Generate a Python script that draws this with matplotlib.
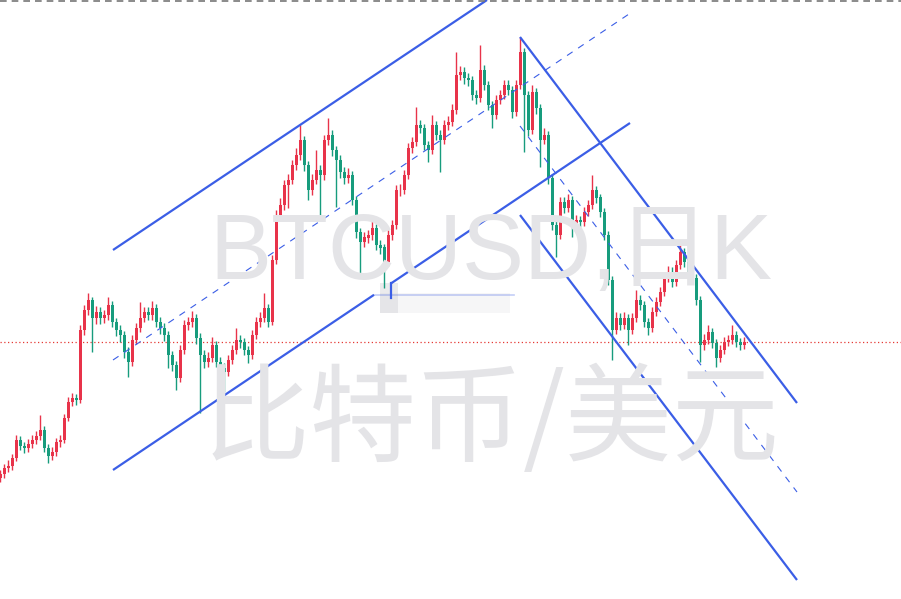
import numpy as np
import matplotlib
matplotlib.use('Agg')
import matplotlib.pyplot as plt
from matplotlib.lines import Line2D

plt.rcParams['font.family'] = ['Liberation Sans', 'Noto Sans CJK SC', 'DejaVu Sans']

# BTCUSD daily, price in thousands of USD
first_open = 12.2
closes = [
    12.6, 13.2, 13.4, 14.2, 16.0, 15.4, 15.2, 15.6, 16.0, 16.4,
    17.0, 15.2, 14.4, 14.8, 15.8, 16.0, 18.2, 19.8, 20.2, 20.0,
    27.0, 29.0, 30.0, 28.2, 28.8, 28.2, 28.5, 29.5, 27.8, 27.0,
    26.5, 24.8, 23.8, 26.0, 27.2, 28.2, 28.8, 28.5, 29.2, 27.8,
    27.2, 26.5, 24.5, 23.5, 22.2, 25.0, 27.5, 27.8, 28.2, 26.2,
    24.5, 23.8, 24.2, 25.5, 23.8, 23.2, 22.8, 24.0, 25.0, 26.0,
    25.8, 25.0, 24.5, 26.5, 27.8, 28.2, 29.2, 27.8, 34.0, 38.5,
    39.5, 41.5, 42.0, 43.5, 44.5, 46.0, 43.5, 41.0, 42.0, 43.0,
    42.5, 46.0, 46.5, 45.0, 44.0, 42.8, 42.2, 42.5, 40.0, 36.8,
    35.8, 36.2, 36.5, 37.2, 35.5, 35.2, 33.8, 36.5, 37.5, 41.0,
    41.0, 42.5, 45.2, 45.8, 47.5, 47.2, 45.5, 45.0, 47.5, 46.5,
    46.0, 47.5, 47.8, 49.0, 52.5, 52.8, 52.2, 52.0, 50.5, 50.2,
    53.0, 51.5, 49.5, 48.5, 50.0, 50.5, 51.5, 51.0, 48.8, 51.5,
    54.8, 50.5, 47.0, 50.8, 49.2, 46.0, 46.5, 42.2, 37.5, 36.5,
    39.8, 39.2, 40.0, 37.5, 38.0, 37.8, 38.8, 39.5, 41.0, 40.2,
    38.8, 36.5, 32.0, 27.0, 28.2, 27.5, 28.2, 27.0, 28.2, 30.0,
    29.5, 27.8, 27.2, 28.8, 29.8, 30.8, 32.2, 32.8, 31.8, 33.5,
    34.8, 33.8, 32.8, 32.2, 30.0, 25.5, 26.0, 26.8, 25.7, 24.2,
    25.0, 25.8, 26.0, 26.5, 25.8, 25.5, 25.8,
]
highs = [
    13.0, 13.6, 14.0, 14.6, 16.5, 16.4, 15.8, 16.1, 16.5, 16.9,
    18.5, 17.4, 15.6, 15.3, 16.2, 16.5, 18.6, 20.3, 20.7, 20.6,
    27.5, 29.5, 30.7, 30.3, 29.4, 29.3, 29.0, 30.3, 29.9, 28.2,
    27.5, 26.9, 25.3, 26.5, 27.7, 29.8, 29.3, 29.3, 29.9, 29.6,
    28.3, 27.7, 26.9, 24.9, 23.9, 25.5, 28.0, 28.3, 28.9, 28.6,
    26.7, 25.0, 24.8, 26.3, 25.9, 24.3, 23.7, 24.5, 25.5, 27.2,
    26.5, 26.2, 25.4, 27.0, 28.3, 28.8, 30.7, 29.6, 34.5, 39.0,
    40.2, 42.0, 42.6, 44.0, 45.2, 47.5, 46.4, 43.9, 42.6, 45.0,
    43.5, 46.5, 48.2, 47.0, 45.4, 44.5, 43.3, 43.2, 42.9, 40.4,
    37.2, 36.8, 37.0, 38.0, 37.6, 36.0, 35.6, 37.0, 38.0, 41.5,
    41.6, 43.0, 45.7, 46.3, 49.3, 48.0, 47.6, 45.9, 48.5, 47.9,
    47.0, 48.0, 48.4, 49.6, 54.8, 53.4, 53.3, 52.7, 52.4, 51.0,
    55.5, 53.5, 51.9, 49.9, 50.5, 51.0, 52.0, 52.0, 51.4, 52.0,
    56.3, 55.2, 50.9, 51.5, 51.2, 49.6, 47.2, 46.9, 42.6, 38.0,
    40.3, 40.3, 40.6, 40.4, 38.5, 38.4, 39.3, 40.0, 42.5, 41.4,
    40.6, 39.2, 36.9, 32.4, 28.8, 28.7, 28.8, 28.6, 28.7, 31.0,
    30.5, 29.9, 28.2, 29.3, 30.3, 31.3, 32.7, 33.4, 33.3, 34.0,
    35.5, 35.2, 34.2, 33.3, 32.6, 30.4, 26.6, 27.5, 27.2, 26.1,
    25.5, 26.3, 26.5, 27.5, 26.9, 26.2, 26.3,
]
lows = [
    11.8, 12.2, 12.8, 13.0, 13.9, 15.0, 14.7, 14.8, 15.2, 15.6,
    16.0, 14.8, 13.7, 14.0, 14.4, 15.3, 15.7, 17.9, 19.4, 19.5,
    19.7, 26.5, 28.5, 24.8, 27.6, 27.6, 27.7, 28.0, 27.3, 26.4,
    25.8, 24.2, 22.3, 23.4, 25.6, 26.8, 27.8, 28.0, 28.0, 27.3,
    26.6, 25.9, 23.2, 22.9, 21.0, 21.8, 24.6, 27.0, 27.3, 25.6,
    18.7, 23.2, 23.3, 23.8, 23.3, 22.7, 20.8, 22.4, 23.6, 24.6,
    25.2, 24.5, 23.7, 24.1, 26.1, 27.3, 27.8, 27.3, 27.5, 33.6,
    38.0, 39.0, 39.2, 41.6, 43.0, 44.0, 42.9, 40.0, 40.5, 41.6,
    38.3, 42.0, 45.5, 44.4, 39.3, 42.2, 41.6, 41.7, 39.5, 36.2,
    32.3, 35.3, 35.7, 36.0, 35.0, 34.6, 31.2, 33.4, 36.0, 37.1,
    40.4, 40.6, 42.1, 44.7, 45.4, 46.7, 45.0, 43.8, 44.6, 46.0,
    42.8, 45.6, 47.0, 47.4, 48.6, 52.0, 51.6, 51.4, 50.0, 49.6,
    49.8, 51.0, 49.0, 47.2, 48.1, 49.6, 50.1, 50.5, 48.2, 48.4,
    51.1, 44.8, 46.4, 46.6, 48.6, 43.3, 45.6, 41.6, 37.0, 34.3,
    36.1, 38.7, 38.8, 36.3, 37.0, 37.3, 37.4, 38.4, 39.1, 39.7,
    38.3, 36.0, 31.5, 24.0, 26.6, 27.0, 27.1, 25.5, 26.6, 27.8,
    29.0, 27.3, 26.5, 26.8, 28.4, 29.4, 30.4, 31.8, 31.3, 31.4,
    33.1, 33.3, 32.3, 31.7, 29.5, 23.8, 25.0, 25.6, 25.2, 23.3,
    23.8, 24.6, 25.4, 25.6, 25.3, 25.0, 25.1,
]

# channel drawings: (bar index, price) anchor pairs
rise_upper = [(28.25, 35.0), (121.75, 60.0)]
rise_lower = [(28.25, 13.0), (157.5, 47.7)]
rise_mid = [(28.25, 24.0), (158.0, 58.8)]
rise_lower_gap = (93.5, 97.75)
fall_upper = [(130.0, 56.3), (199.25, 19.7)]
fall_lower = [(130.0, 38.5), (199.25, 2.0)]
fall_mid = [(130.0, 47.4), (199.25, 10.8)]

UP = '#e8334a'
DOWN = '#179c7d'
BLUE = '#3b5ee6'
MARK = '#e4e4e7'


def line_y(seg, x):
    (x0, y0), (x1, y1) = seg
    return y0 + (y1 - y0) * (x - x0) / (x1 - x0)


def main():
    fig = plt.figure(figsize=(9.01, 5.99), dpi=100)
    ax = fig.add_axes([0, 0, 1, 1])
    ax.set_xlim(0, 225.25)
    ax.set_ylim(0.1, 60.0)
    ax.axis('off')

    # watermark
    fig.text(0.545, 0.575, 'BTCUSD,日K', ha='center', va='center',
             fontsize=67, color=MARK, zorder=0)
    fig.text(0.545, 0.295, '比特币/美元', ha='center', va='center',
             fontsize=77, color=MARK, zorder=0,
             family=['Noto Sans CJK SC', 'DejaVu Sans'])

    c = np.array(closes)
    o = np.array([first_open] + closes[:-1])
    h = np.array(highs)
    l = np.array(lows)
    x = np.arange(len(c))
    col = np.where(c >= o, UP, DOWN)

    ax.vlines(x, l, h, colors=col, lw=1.0, zorder=3)
    ax.bar(x, np.abs(c - o) + 0.05, bottom=np.minimum(o, c), width=0.75,
           color=col, linewidth=0, zorder=3)

    # price line
    ax.axhline(c[-1], color='#e53935', lw=0.9, ls=(0, (1, 2)), zorder=2)

    # rising channel
    kw = dict(color=BLUE, lw=1.6, solid_capstyle='butt', zorder=4)
    ax.plot(*zip(*rise_upper), **kw)
    g0, g1 = rise_lower_gap
    x0 = rise_lower[0][0]
    ax.plot([x0, g0], [line_y(rise_lower, x0), line_y(rise_lower, g0)], **kw)
    x1 = rise_lower[1][0]
    ax.plot([g1, x1], [line_y(rise_lower, g1), line_y(rise_lower, x1)], **kw)
    ax.plot(*zip(*rise_mid), color=BLUE, lw=0.8, dashes=(6, 6), zorder=4)

    # falling channel
    ax.plot(*zip(*fall_upper), **kw)
    ax.plot(*zip(*fall_lower), **kw)
    ax.plot(*zip(*fall_mid), color=BLUE, lw=0.8, dashes=(6, 6), zorder=4)

    # blurred drawing-tool leftover near the channel break
    yb = line_y(rise_lower, g0)
    ax.plot([g0, 128.5], [yb, yb], color=BLUE, lw=1.2, alpha=0.3, zorder=4)
    ax.plot([g1, g1], [yb - 0.3, line_y(rise_lower, g1)], color=BLUE, lw=1.6, zorder=4)
    ax.add_patch(plt.Rectangle((95.0, 28.7), 32.5, 2.0, color='#dcdce0',
                               alpha=0.25, lw=0, zorder=2))
    ax.add_patch(plt.Rectangle((95.0, 28.7), 4.5, 3.0, color='#c8c8cc',
                               alpha=0.35, lw=0, zorder=2))

    # top border
    fig.add_artist(Line2D([0, 1], [0.998, 0.998], transform=fig.transFigure,
                          color='#777777', lw=1.2, dashes=(4, 3)))

    fig.savefig('out.png', dpi=100, facecolor='white')


if __name__ == "__main__":
    main()
